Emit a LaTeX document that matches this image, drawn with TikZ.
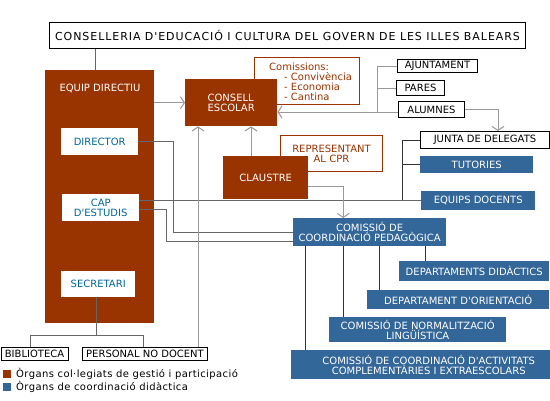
\documentclass[tikz,border=0pt]{standalone}
\usepackage{fontspec}
\setmainfont{DejaVu Sans}[Ligatures=TeXOff]
\usetikzlibrary{arrows.meta}
\definecolor{brownc}{HTML}{993300}
\definecolor{bluec}{HTML}{336699}
\definecolor{bluetxt}{HTML}{006699}
\definecolor{grayarr}{HTML}{999999}
\definecolor{grayln}{HTML}{666666}
\definecolor{darkln}{HTML}{333333}

\begin{document}
\begin{tikzpicture}[x=1pt,y=-1pt,
    every node/.style={font=\fontsize{10}{10}\selectfont, inner sep=0pt, anchor=north west, align=center},
    brownbox/.style={fill=brownc, text=white},
    bluebox/.style={fill=bluec, text=white},
    whitebox/.style={fill=white, text=bluetxt},
    linebox/.style={fill=white, draw=black, line width=1pt},
    redbox/.style={fill=white, draw=brownc, text=brownc, line width=1pt},
    legendtext/.style={anchor=west, font=\fontsize{10}{10}\selectfont\addfontfeature{LetterSpace=4}},
    arrowline/.style={draw=grayarr, line width=1pt, -{Straight Barb[length=4pt,width=12pt]}},
    lightline/.style={draw=grayarr, line width=1pt},
    midline/.style={draw=grayln, line width=1pt},
    darkline/.style={draw=darkln, line width=1pt}]
            \useasboundingbox (0,0) rectangle (550,400);

            \node [linebox, minimum width=476pt, minimum height=26pt,
                font=\fontsize{11}{11}\selectfont\addfontfeature{LetterSpace=8.5}] (conselleria) at (49,22)
                {CONSELLERIA D'EDUCACIÓ I CULTURA DEL GOVERN DE LES ILLES BALEARS};

            \node [brownbox, minimum width=109pt, minimum height=253pt] (equip) at (45,70) {};
            \node [text=white, anchor=center] (equiptxt) at (100,88) {EQUIP DIRECTIU};
            \node [whitebox, minimum width=77pt, minimum height=27pt] (director) at (61,128) {DIRECTOR};
            \node [whitebox, minimum width=77pt, minimum height=27pt] (capest) at (62,194) {CAP\\D'ESTUDIS};
            \node [whitebox, minimum width=74pt, minimum height=26pt] (secretari) at (61,271) {SECRETARI};

            \node [redbox, minimum width=105pt, minimum height=47pt] (comissions) at (254,57) {};
            \node [text=brownc, align=left] (comissionstxt) at (269,62.5)
                {Comissions:\\\hspace*{15pt}- Convivència\\\hspace*{15pt}- Economia\\\hspace*{15pt}- Cantina};
            \node [brownbox, minimum width=92pt, minimum height=47pt, align=left] (consell) at (185,79) {CONSELL\\ESCOLAR};

            \node [linebox, minimum width=80pt, minimum height=13pt] (ajuntament) at (397,59) {AJUNTAMENT};
            \node [linebox, minimum width=48pt, minimum height=15pt] (pares) at (396,80) {PARES};
            \node [linebox, minimum width=66pt, minimum height=16pt] (alumnes) at (398,101) {ALUMNES};

            \node [redbox, minimum width=102pt, minimum height=36pt, text width=80pt, inner xsep=11pt] (representant) at (280,135)
                {REPRESENTANT\\AL CPR};
            \node [brownbox, minimum width=85pt, minimum height=43pt] (claustre) at (223,156) {CLAUSTRE};

            \node [linebox, minimum width=129pt, minimum height=17pt] (junta) at (420,131) {JUNTA DE DELEGATS};
            \node [bluebox, minimum width=113pt, minimum height=17pt] (tutories) at (420,156) {TUTORIES};
            \node [bluebox, minimum width=114pt, minimum height=19pt] (equips) at (421,191) {EQUIPS DOCENTS};

            \node [bluebox, minimum width=153pt, minimum height=28pt] (ccp) at (293,218) {COMISSIÓ DE\\COORDINACIÓ PEDAGÒGICA};
            \node [bluebox, minimum width=150pt, minimum height=20pt] (deptdid) at (399,261) {DEPARTAMENTS DIDÀCTICS};
            \node [bluebox, minimum width=182pt, minimum height=19pt] (deptori) at (367,290) {DEPARTAMENT D'ORIENTACIÓ};
            \node [bluebox, minimum width=177pt, minimum height=25pt] (cnl) at (329,317) {COMISSIÓ DE NORMALITZACIÓ\\LINGÜÍSTICA};
            \node [bluebox, minimum width=275pt, minimum height=29pt] (ccae) at (291,350)
                {COMISSIÓ DE COORDINACIÓ D'ACTIVITATS\\COMPLEMENTÀRIES I EXTRAESCOLARS};

            \node [linebox, minimum width=67pt, minimum height=13pt] (biblioteca) at (0.5,347) {BIBLIOTECA};
            \node [linebox, minimum width=125pt, minimum height=13pt] (personal) at (82,347) {PERSONAL NO DOCENT};

            \node [fill=brownc, minimum size=8pt] (legbrown) at (3,370) {};
            \node [fill=bluec, minimum size=8pt] (legblue) at (3,383) {};
            \node [legendtext] (legbrowntxt) at (16,374) {Òrgans col·legiats de gestió i participació};
            \node [legendtext] (legbluetxt) at (16,387) {Òrgans de coordinació didàctica};

            \draw [midline] (equip.north -| 95,0) -- (conselleria.south -| 95,0);
            \draw [arrowline] (consell.west -| equip.east) -- (consell.west);

            \coordinate (fork) at (377,112);
            \draw [arrowline] (alumnes.west |- fork) -- (fork -| consell.east);
            \draw [lightline] (ajuntament.west) -| (fork);
            \draw [lightline] (pares.west) -- (pares.west -| fork);
            \draw [arrowline] (alumnes.east) -| (junta.north -| 498,0);

            \coordinate (jfork) at (equips.west -| 402,0);
            \draw [darkline] (junta.west) -| (jfork);
            \draw [darkline] (tutories.west) -- (tutories.west -| jfork);
            \draw [midline] (equips.west -| capest.east) -- (equips.west);

            \draw [midline] (director.east) -| ([xshift=-120pt]ccp.west) -- (ccp.west);
            \draw [midline] ([yshift=-2pt]capest.east) -| ([xshift=-127pt,yshift=5pt]ccp.south west) -- ([yshift=5pt]ccp.south west);

            \coordinate (pnd) at ([xshift=-10pt]personal.north east);
            \draw [arrowline] (pnd) -- (pnd |- consell.south);
            \draw [arrowline] (claustre.north -| 251,0) -- (consell.south -| 251,0);
            \coordinate (ctop) at ([xshift=-26.5pt]ccp.north);
            \draw [arrowline] ([yshift=-9pt]claustre.east) -| (ctop);

            \foreach \t/\x in {deptdid/425, deptori/379, cnl/343, ccae/305} {
                \draw [darkline] (ccp.south -| \x,0) -- (\t.north -| \x,0);
            }

            \draw [midline] (secretari.south -| 96,0) -- (96,335);
            \draw [midline] (biblioteca.north -| 30,0) |- (143,335) -- (personal.north -| 143,0);
        \end{tikzpicture}
\end{document}
